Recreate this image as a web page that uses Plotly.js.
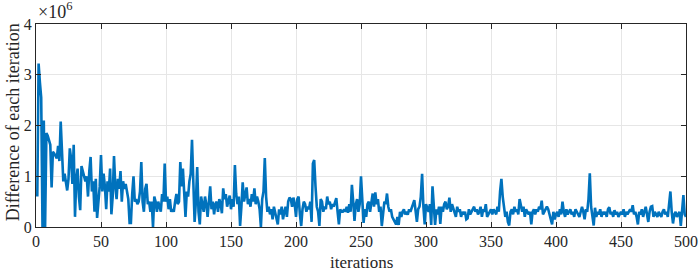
<!DOCTYPE html>
<html>
<head>
<meta charset="utf-8">
<script src="https://cdn.plot.ly/plotly-3.0.1.min.js"></script>
<style>html,body{margin:0;padding:0;background:#fff;}#chart{width:699px;height:272px;}</style>
</head>
<body>
<div id="chart"></div>
<script>
// Difference of each iteration (units of 1e6), iterations 1..500
const diff001_050 = [0.60,3.22,2.85,2.55,0.00,2.10,0.00,1.85,1.80,1.70,1.62,0.78,1.48,1.45,1.40,1.35,1.60,1.30,2.08,1.50,0.90,1.05,0.88,0.72,0.95,1.55,1.35,0.85,1.62,0.20,0.95,1.15,0.60,0.33,1.20,1.10,1.05,0.90,1.00,0.60,1.10,1.38,0.70,0.90,0.30,0.95,0.18,0.50,0.80,1.42];
const diff051_100 = [0.70,1.05,0.80,0.35,0.90,0.70,1.15,0.25,0.60,1.40,0.80,0.55,0.95,0.75,1.10,0.50,0.90,0.75,0.85,0.70,0.55,0.08,0.08,0.65,1.00,0.50,0.55,0.45,0.50,0.70,1.28,0.50,0.30,0.75,0.85,0.45,0.50,0.30,0.50,0.00,0.60,0.50,0.30,0.50,0.40,0.30,0.65,0.50,1.25,0.50];
const diff101_150 = [0.60,0.35,0.55,0.30,0.35,0.30,0.50,0.65,0.45,0.50,1.28,0.80,1.15,0.60,0.20,0.70,0.60,0.90,1.05,1.72,0.70,0.10,0.50,1.18,0.30,0.05,0.60,0.40,0.30,0.60,0.45,0.20,0.50,0.80,0.35,0.50,0.25,0.45,0.50,0.30,0.55,0.45,0.27,0.76,0.55,0.65,0.40,0.55,0.62,0.35];
const diff151_200 = [0.55,0.40,1.22,0.65,0.45,0.60,0.02,0.40,0.88,0.50,0.65,0.78,0.45,0.55,0.40,0.65,0.50,0.76,0.45,0.60,0.50,0.35,0.00,0.55,0.70,1.36,0.60,0.30,0.40,0.25,0.35,0.15,0.40,0.30,0.20,0.05,0.35,0.25,0.40,0.15,0.30,0.40,0.20,0.50,0.58,0.55,0.40,0.58,0.45,0.20];
const diff201_250 = [0.55,0.60,0.25,0.02,0.35,0.50,0.45,0.30,0.40,0.35,0.50,0.10,1.25,1.32,0.80,0.40,0.30,0.02,0.55,0.50,0.30,0.40,0.35,0.60,0.45,0.50,0.35,0.45,0.40,0.50,0.57,0.30,0.05,0.35,0.30,0.30,0.35,0.30,0.40,0.28,0.45,0.30,0.83,0.50,0.12,0.45,0.55,0.30,0.45,1.00];
const diff251_300 = [0.40,0.08,0.35,0.20,0.45,0.50,0.30,0.55,0.66,0.40,0.68,0.45,0.55,0.30,0.40,0.02,0.35,0.50,0.45,0.66,0.40,0.30,0.35,0.20,0.15,0.10,0.05,0.20,0.04,0.30,0.20,0.30,0.35,0.25,0.30,0.24,0.35,0.30,0.40,0.45,0.53,0.30,0.10,0.35,0.40,0.60,1.05,0.40,0.05,0.45];
const diff301_350 = [0.35,0.30,0.45,0.04,0.80,0.30,0.04,0.35,0.25,0.40,0.06,0.40,0.30,0.45,0.50,0.35,0.40,0.58,0.30,0.45,0.35,0.30,0.20,0.40,0.30,0.35,0.20,0.30,0.25,0.30,0.15,0.17,0.35,0.25,0.30,0.35,0.40,0.30,0.35,0.25,0.30,0.40,0.20,0.35,0.30,0.45,0.20,0.25,0.30,0.35];
const diff351_400 = [0.25,0.35,0.30,0.25,0.40,0.30,0.70,0.95,0.60,0.38,0.20,0.30,0.10,0.03,0.30,0.35,0.25,0.40,0.30,0.35,0.25,0.55,0.45,0.30,0.40,0.20,0.35,0.30,0.25,0.30,0.05,0.30,0.35,0.25,0.35,0.30,0.40,0.35,0.52,0.25,0.30,0.35,0.40,0.35,0.25,0.20,0.05,0.30,0.15,0.25];
const diff401_450 = [0.30,0.20,0.35,0.25,0.50,0.30,0.20,0.35,0.25,0.30,0.35,0.25,0.30,0.20,0.35,0.30,0.25,0.20,0.30,0.40,0.30,0.15,0.35,0.30,0.55,1.06,0.40,0.20,0.03,0.38,0.20,0.30,0.25,0.35,0.20,0.30,0.25,0.30,0.20,0.35,0.39,0.25,0.30,0.20,0.33,0.25,0.30,0.20,0.25,0.30];
const diff451_500 = [0.25,0.35,0.20,0.30,0.25,0.30,0.35,0.30,0.43,0.25,0.30,0.20,0.05,0.30,0.25,0.35,0.20,0.30,0.40,0.25,0.10,0.30,0.40,0.41,0.20,0.30,0.25,0.20,0.30,0.25,0.20,0.30,0.35,0.25,0.30,0.20,0.40,0.70,0.30,0.07,0.25,0.30,0.20,0.25,0.30,0.02,0.30,0.63,0.25,0.20];

const xTickVals = [0,50,100,150,200,250,300,350,400,450,500];
const yTickVals = [0,1,2,3,4];
const yTickText = ["0","1","2","3","4"];

const yVals = [].concat(diff001_050,diff051_100,diff101_150,diff151_200,diff201_250,
                        diff251_300,diff301_350,diff351_400,diff401_450,diff451_500);
const xVals = yVals.map((_, k) => k + 1);

const SERIF = 'Liberation Serif';

const axisCommon = {
  showline: true, linecolor: '#262626', linewidth: 1, mirror: 'allticks',
  ticks: 'inside', ticklen: 5, tickcolor: '#262626', tickwidth: 1,
  showgrid: true, gridcolor: '#e6e6e6', gridwidth: 1, zeroline: false,
  tickfont: {family: SERIF, size: 16, color: '#262626'},
  automargin: false
};

const trace = {
  x: xVals, y: yVals, type: 'scatter', mode: 'lines',
  line: {color: '#0072BD', width: 2.6}, hoverinfo: 'skip'
};

const layout = {
  width: 699, height: 272,
  margin: {l: 36, r: 13, t: 24, b: 45},
  paper_bgcolor: '#ffffff', plot_bgcolor: '#ffffff',
  font: {family: SERIF, color: '#262626'},
  showlegend: false,
  xaxis: Object.assign({}, axisCommon, {range: [0, 500], tickvals: xTickVals, ticktext: xTickVals.map(String)}),
  yaxis: Object.assign({}, axisCommon, {range: [0, 4], tickvals: yTickVals, ticktext: yTickText}),
  annotations: [
    {text: 'iterations', xref: 'paper', yref: 'paper', x: 0.5, y: -0.118, xanchor: 'center', yanchor: 'top',
     showarrow: false, font: {family: SERIF, size: 17, color: '#262626'}},
    {text: 'Difference of each iteration', xref: 'paper', yref: 'paper', x: -0.034, y: 0.515, xanchor: 'center', yanchor: 'middle',
     textangle: -90, showarrow: false, font: {family: SERIF, size: 18, color: '#262626'}},
    {text: '×10<sup>6</sup>', xref: 'paper', yref: 'paper', x: 0.0, y: 1.0, xanchor: 'left', yanchor: 'bottom',
     showarrow: false, font: {family: SERIF, size: 18, color: '#262626'}}
  ]
};

Plotly.newPlot('chart', [trace], layout, {staticPlot: true, displayModeBar: false});
</script>
</body>
</html>
